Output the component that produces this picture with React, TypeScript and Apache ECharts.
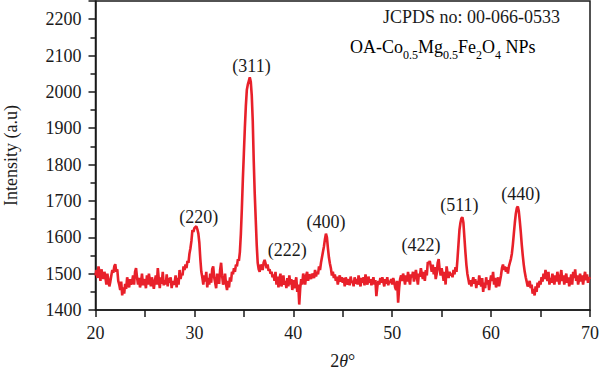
import React, { useEffect, useRef } from "react";
import * as echarts from "echarts";

const xStart = 20;
const xStep = 0.1;
const intensity: number[] = [
  // 20
  1495, 1510, 1488, 1520, 1505, 1480, 1512, 1498, 1485, 1505,
  // 21
  1490, 1470, 1500, 1482, 1465, 1478, 1495, 1510, 1502, 1520,
  // 22
  1526, 1505, 1512, 1480, 1470, 1455, 1478, 1440, 1462, 1445,
  // 23
  1472, 1458, 1490, 1476, 1462, 1485, 1470, 1478, 1495, 1470,
  // 24
  1505, 1515, 1490, 1470, 1488, 1462, 1475, 1500, 1468, 1485,
  // 25
  1478, 1460, 1495, 1470, 1500, 1482, 1465, 1490, 1475, 1458,
  // 26
  1480, 1495, 1470, 1515, 1485, 1460, 1490, 1472, 1505, 1468,
  // 27
  1482, 1470, 1498, 1465, 1488, 1475, 1490, 1460, 1480, 1470,
  // 28
  1475, 1495, 1462, 1488, 1470, 1510, 1485, 1500, 1495, 1520,
  // 29
  1510, 1525, 1515, 1535, 1530, 1555, 1570, 1590, 1620, 1615,
  // 30
  1625, 1628, 1630, 1622, 1610, 1585, 1540, 1505, 1490, 1470,
  // 31
  1495, 1478, 1505, 1462, 1488, 1470, 1500, 1475, 1512, 1520,
  // 32
  1490, 1475, 1460, 1500, 1485, 1472, 1510, 1530, 1495, 1470,
  // 33
  1480, 1500, 1470, 1455, 1480, 1462, 1490, 1478, 1505, 1498,
  // 34
  1515, 1505, 1525, 1520, 1540, 1535, 1560, 1610, 1680, 1760,
  // 35
  1830, 1900, 1960, 2005, 2020, 2030, 2040, 2028, 1990, 1920,
  // 36
  1810, 1720, 1650, 1580, 1530, 1512, 1505, 1525, 1520, 1510,
  // 37
  1530, 1538, 1528, 1515, 1525, 1508, 1512, 1500, 1505, 1490,
  // 38
  1498, 1480, 1505, 1470, 1492, 1462, 1485, 1500, 1465, 1478,
  // 39
  1495, 1470, 1480, 1460, 1488, 1465, 1495, 1470, 1485, 1455,
  // 40
  1482, 1460, 1475, 1490, 1450, 1470, 1415, 1460, 1485, 1470,
  // 41
  1500, 1488, 1470, 1495, 1505, 1480, 1498, 1492, 1485, 1500,
  // 42
  1495, 1488, 1510, 1492, 1505, 1498, 1520, 1510, 1530, 1545,
  // 43
  1560, 1575, 1595, 1610, 1600, 1570, 1545, 1528, 1515, 1495,
  // 44
  1505, 1488, 1498, 1480, 1492, 1470, 1485, 1495, 1478, 1490,
  // 45
  1475, 1488, 1465, 1490, 1478, 1470, 1485, 1468, 1492, 1475,
  // 46
  1480, 1465, 1490, 1472, 1485, 1470, 1495, 1478, 1465, 1488,
  // 47
  1475, 1490, 1468, 1498, 1480, 1470, 1492, 1475, 1485, 1468,
  // 48
  1478, 1490, 1470, 1482, 1438, 1465, 1480, 1470, 1488, 1475,
  // 49
  1490, 1478, 1465, 1485, 1472, 1490, 1468, 1480, 1475, 1485,
  // 50
  1470, 1488, 1478, 1462, 1455, 1480, 1420, 1460, 1485, 1495,
  // 51
  1480, 1500, 1488, 1470, 1495, 1478, 1505, 1485, 1470, 1498,
  // 52
  1490, 1505, 1478, 1495, 1510, 1488, 1470, 1500, 1492, 1515,
  // 53
  1498, 1485, 1505, 1480, 1510, 1495, 1532, 1528, 1535, 1520,
  // 54
  1505, 1525, 1498, 1518, 1485, 1500, 1530, 1540, 1510, 1495,
  // 55
  1515, 1500, 1480, 1505, 1470, 1520, 1500, 1488, 1505, 1495,
  // 56
  1500, 1490, 1510, 1498, 1518, 1505, 1540, 1580, 1620, 1640,
  // 57
  1652, 1655, 1640, 1600, 1560, 1525, 1500, 1485, 1470, 1482,
  // 58
  1465, 1478, 1490, 1472, 1485, 1460, 1480, 1470, 1495, 1478,
  // 59
  1465, 1488, 1450, 1475, 1460, 1490, 1470, 1482, 1455, 1478,
  // 60
  1495, 1480, 1505, 1470, 1488, 1462, 1475, 1490, 1465, 1480,
  // 61
  1495, 1515, 1525, 1510, 1520, 1505, 1518, 1500, 1520, 1530,
  // 62
  1540, 1555, 1580, 1610, 1640, 1665, 1680, 1685, 1672, 1645,
  // 63
  1615, 1580, 1550, 1525, 1505, 1490, 1478, 1465, 1470, 1480,
  // 64
  1460, 1470, 1445, 1458, 1440, 1465, 1450, 1475, 1462, 1480,
  // 65
  1470, 1490, 1478, 1500, 1485, 1510, 1492, 1480, 1505, 1470,
  // 66
  1488, 1475, 1500, 1482, 1470, 1495, 1478, 1505, 1488, 1470,
  // 67
  1492, 1510, 1480, 1495, 1470, 1488, 1500, 1475, 1490, 1465,
  // 68
  1480, 1498, 1470, 1505, 1488, 1512, 1480, 1495, 1470, 1485,
  // 69
  1500, 1478, 1495, 1470, 1490, 1505, 1482, 1498, 1475, 1490,
  // 70
  1485,
];

const peakLabels = ["(220)", "(311)", "(222)", "(400)", "(422)", "(511)", "(440)"];
const peakLabelX = [30.45, 35.77, 39.4, 43.3, 52.9, 56.8, 63.0];
const peakLabelY = [1657, 2071, 1564, 1641, 1578, 1688, 1720];

const xTicks = [20, 30, 40, 50, 60, 70];
const yTicks = [1400, 1500, 1600, 1700, 1800, 1900, 2000, 2100, 2200];

const FONT = "Liberation Serif";
const INK = "#1a1a1a";

export default function App() {
  const ref = useRef<HTMLDivElement>(null);
  useEffect(() => {
    if (!ref.current) return;
    const chart = echarts.init(ref.current, undefined, { renderer: "svg" });
    const data = intensity.map((v, i) => [+(xStart + i * xStep).toFixed(1), v]);
    const sub = { fontSize: 12, fontFamily: FONT, color: INK, verticalAlign: "bottom", padding: [0, 0, -5, 0] };
    const norm = { fontSize: 18, fontFamily: FONT, color: INK, verticalAlign: "bottom" };
    chart.setOption({
      animation: false,
      backgroundColor: "#fff",
      grid: {
        left: 95.5,
        right: 10,
        top: 1,
        bottom: 72,
        show: true,
        borderColor: INK,
        borderWidth: 1.5,
        backgroundColor: "transparent",
        containLabel: false,
        outerBoundsMode: "none",
      },
      xAxis: {
        type: "value",
        min: xTicks[0],
        max: xTicks[xTicks.length - 1],
        interval: 10,
        name: "2{i|θ}°",
        nameLocation: "middle",
        nameGap: 42,
        nameTextStyle: {
          fontFamily: FONT,
          fontSize: 18,
          color: INK,
          rich: { i: { fontFamily: FONT, fontSize: 18, fontStyle: "italic", color: INK } },
        },
        axisLine: { show: true, lineStyle: { color: INK, width: 1.5 } },
        axisTick: { show: true, inside: false, length: 7, lineStyle: { color: INK, width: 1.5 } },
        minorTick: { show: true, splitNumber: 2, length: 7, lineStyle: { color: INK, width: 1.5 } },
        splitLine: { show: false },
        axisLabel: { fontFamily: FONT, fontSize: 18, color: INK, margin: 14, formatter: (v: number) => String(v) },
      },
      yAxis: {
        type: "value",
        min: yTicks[0],
        max: 2250,
        interval: 100,
        name: "Intensity (a.u)",
        nameLocation: "middle",
        nameGap: 76,
        nameTextStyle: { fontFamily: FONT, fontSize: 18, color: INK },
        axisLine: { show: true, lineStyle: { color: INK, width: 1.5 } },
        axisTick: { show: true, inside: false, length: 7, lineStyle: { color: INK, width: 1.5 } },
        minorTick: { show: true, splitNumber: 2, length: 5, lineStyle: { color: INK, width: 1.5 } },
        splitLine: { show: false },
        axisLabel: {
          fontFamily: FONT,
          fontSize: 18,
          color: INK,
          margin: 14,
          showMaxLabel: false,
          formatter: (v: number) => String(v),
        },
      },
      series: [
        {
          type: "line",
          data,
          showSymbol: false,
          symbol: "none",
          lineStyle: { color: "#e8202a", width: 2.6 },
          markPoint: {
            symbol: "circle",
            symbolSize: 0,
            silent: true,
            label: {
              show: true,
              position: "inside",
              formatter: (p: any) => p.name,
              fontFamily: FONT,
              fontSize: 18,
              color: INK,
            },
            data: peakLabels.map((n, i) => ({ name: n, coord: [peakLabelX[i], peakLabelY[i]] })),
          },
        },
      ],
      graphic: [
        {
          type: "text",
          left: 383,
          top: 8,
          style: { text: "JCPDS no: 00-066-0533", fontFamily: FONT, fontSize: 18, fill: INK },
        },
        {
          type: "text",
          left: 350,
          top: 38,
          style: {
            text: "{n|OA-Co}{s|0.5}{n|Mg}{s|0.5}{n|Fe}{s|2}{n|O}{s|4}{n| NPs}",
            rich: { n: norm, s: sub } as any,
          },
        },
      ],
    });
    return () => chart.dispose();
  }, []);
  return (
    <div
      ref={ref}
      style={{ position: "absolute", left: 0, top: 0, width: 600, height: 382 }}
    />
  );
}
